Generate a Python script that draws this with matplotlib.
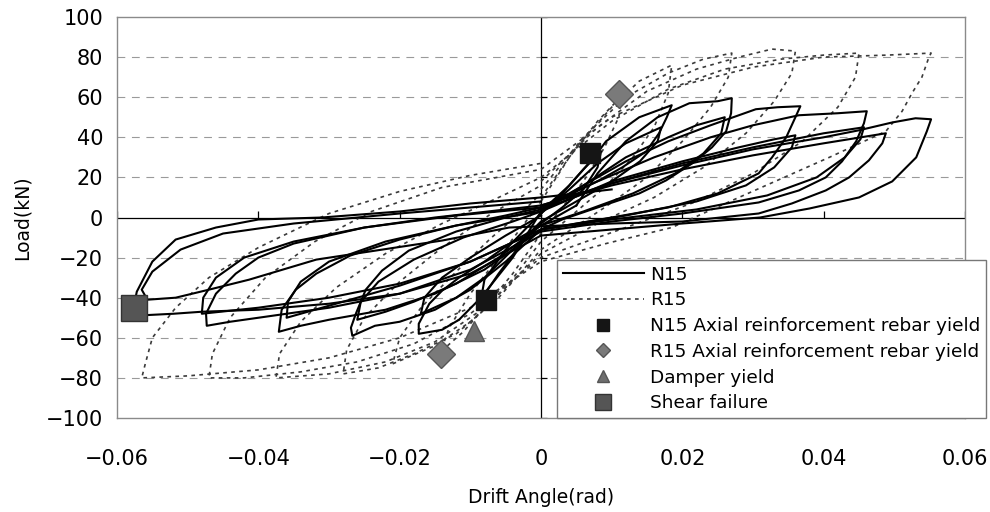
import matplotlib
matplotlib.use("Agg")
import matplotlib.pyplot as plt
from matplotlib.lines import Line2D

# ── data (drift angle rad, load kN) ─────────────────────────────────
# N15 (solid): one list of (x, y) vertices per loading cycle
N15_C1 = [(0.000, 2), (0.003, 12), (0.006, 24), (0.0085, 33), (0.008, 25), (0.006, 14),
          (0.003, 5), (0.000, -3), (-0.003, -14), (-0.006, -28), (-0.0085, -41),
          (-0.008, -31), (-0.005, -16), (-0.002, -5), (0.000, 2)]
N15_C2 = [(0.000, 3), (0.004, 16), (0.0075, 30), (0.0092, 38), (0.0139, 50), (0.0185, 56),
          (0.0178, 50), (0.0167, 42), (0.0149, 33), (0.0115, 25), (0.0082, 18.5),
          (0.0044, 12), (0.000, 3), (-0.004, -20), (-0.0085, -40), (-0.0116, -51),
          (-0.014, -56), (-0.0173, -58), (-0.0173, -53), (-0.0158, -43), (-0.014, -36.5),
          (-0.0116, -30), (-0.008, -22), (-0.004, -12), (0.000, -4), (0.005, 6)]
N15_C2b = [(0.000, 2), (0.004, 14), (0.008, 27), (0.012, 37), (0.017, 45), (0.0165, 38),
           (0.014, 28), (0.010, 18), (0.005, 8), (0.000, -2), (-0.004, -16), (-0.008, -30),
           (-0.012, -40), (-0.017, -48), (-0.0165, -40), (-0.014, -30), (-0.010, -20),
           (-0.005, -9), (0.000, 1)]
N15_C3 = [(0.005, 6), (0.008, 22), (0.012, 38), (0.0165, 50), (0.021, 57), (0.025, 58),
          (0.027, 59.5), (0.0269, 52), (0.0262, 43), (0.0242, 35), (0.0214, 27),
          (0.0177, 18.5), (0.0139, 12), (0.008, 5), (0.003, -1), (0.000, -6),
          (-0.005, -22), (-0.010, -36), (-0.015, -46), (-0.020, -52), (-0.0235, -54),
          (-0.0267, -59), (-0.0269, -55), (-0.0262, -48), (-0.0248, -36), (-0.0225, -26.5),
          (-0.0187, -16.5), (-0.012, -7), (-0.005, 0), (0.000, 4)]
N15_C3b = [(0.000, 3), (0.006, 16), (0.012, 30), (0.018, 40), (0.022, 46), (0.026, 50),
           (0.0255, 42), (0.023, 32), (0.019, 22), (0.013, 12), (0.006, 3), (0.000, -4),
           (-0.006, -20), (-0.012, -33), (-0.018, -42), (-0.022, -47), (-0.026, -51),
           (-0.0255, -42), (-0.023, -32), (-0.018, -21), (-0.011, -10), (-0.004, -2),
           (0.000, 3)]
N15_C4 = [(0.000, 4), (0.006, 16), (0.012, 28), (0.018, 38), (0.024, 46), (0.0304, 54),
          (0.0335, 55), (0.0367, 55.5), (0.036, 50), (0.0347, 40), (0.0327, 30),
          (0.0308, 22), (0.025, 12), (0.018, 5), (0.010, 0), (0.000, -6), (-0.008, -26),
          (-0.015, -38), (-0.022, -46), (-0.030, -51), (-0.034, -54), (-0.0371, -57),
          (-0.0367, -46), (-0.0347, -36), (-0.0318, -28), (-0.027, -19), (-0.020, -11),
          (-0.012, -4), (-0.005, 1), (0.000, 5)]
N15_C4b = [(0.000, 3), (0.010, 18), (0.020, 28), (0.028, 35), (0.033, 39), (0.036, 41),
           (0.0355, 35), (0.033, 25), (0.029, 16), (0.022, 8), (0.012, 1), (0.000, -6),
           (-0.010, -22), (-0.020, -34), (-0.028, -42), (-0.033, -47), (-0.036, -50),
           (-0.0358, -42), (-0.034, -32), (-0.030, -22), (-0.022, -12), (-0.012, -4),
           (0.000, 3)]
N15_C5 = [(0.000, 5), (0.008, 18), (0.016, 30), (0.024, 40), (0.030, 46), (0.0365, 51),
          (0.042, 52), (0.0461, 53), (0.0457, 47), (0.0446, 38), (0.0426, 28),
          (0.0403, 20), (0.0365, 13.5), (0.0308, 7.5), (0.020, 2), (0.010, -2),
          (0.000, -7), (-0.010, -26), (-0.020, -38), (-0.030, -45), (-0.038, -49),
          (-0.044, -52), (-0.0473, -54), (-0.0474, -48), (-0.046, -38), (-0.0432, -28),
          (-0.040, -20), (-0.035, -13), (-0.025, -5), (-0.015, 0), (0.000, 6)]
N15_C5b = [(0.000, 4), (0.010, 17), (0.020, 27), (0.030, 35), (0.040, 42), (0.0457, 45),
           (0.0452, 39), (0.043, 30), (0.039, 20), (0.032, 11), (0.022, 4), (0.010, -1),
           (0.000, -6), (-0.010, -22), (-0.020, -33), (-0.030, -40), (-0.040, -45),
           (-0.048, -48), (-0.0478, -40), (-0.046, -30), (-0.042, -20), (-0.035, -12),
           (-0.025, -5), (-0.012, 1), (0.000, 5)]
N15_C5c = [(0.000, 6), (0.010, 16), (0.020, 24), (0.030, 31), (0.040, 37), (0.0488, 42),
           (0.0483, 37), (0.0464, 28.5), (0.0436, 20), (0.0403, 13.5), (0.0355, 7),
           (0.0308, 2), (0.020, -2), (0.010, -3), (-0.0045, -5), (-0.014, -11.5),
           (-0.0234, -16.5), (-0.0318, -21), (-0.0413, -31), (-0.047, -36), (-0.0517, -40),
           (-0.0557, -41), (-0.0565, -36), (-0.055, -27), (-0.051, -16), (-0.045, -8),
           (-0.035, -3), (-0.020, 2), (-0.010, 5), (0.000, 8)]
N15_C6 = [(0.000, 6), (0.010, 17), (0.020, 26), (0.030, 34), (0.040, 40), (0.045, 43.5),
          (0.0497, 47.4), (0.053, 49.5), (0.0552, 49), (0.0546, 43), (0.0531, 30),
          (0.0497, 18), (0.045, 10), (0.038, 4.5), (0.031, 0), (0.020, -3), (0.010, -6),
          (0.000, -9), (-0.010, -28), (-0.020, -38), (-0.030, -43), (-0.040, -46),
          (-0.048, -47), (-0.052, -48), (-0.0576, -49), (-0.0576, -44), (-0.0572, -37),
          (-0.055, -22), (-0.0517, -11), (-0.046, -5), (-0.040, -1), (-0.031, 0),
          (-0.020, 3), (-0.010, 7), (0.000, 10), (0.010, 14)]

# R15 (dotted)
R15_C1 = [(0.000, 8), (0.004, 30), (0.008, 48), (0.0115, 61), (0.011, 50), (0.009, 35),
          (0.006, 18), (0.003, 5), (0.000, -8), (-0.004, -28), (-0.008, -45),
          (-0.011, -57), (-0.0142, -67), (-0.013, -55), (-0.010, -38), (-0.006, -20),
          (-0.003, -6), (0.000, 8)]
R15_C2 = [(0.000, 10), (0.005, 35), (0.010, 55), (0.0139, 68), (0.0185, 76), (0.018, 62),
          (0.016, 45), (0.013, 30), (0.009, 15), (0.004, 0), (0.000, -12), (-0.005, -35),
          (-0.010, -52), (-0.015, -64), (-0.021, -73), (-0.020, -60), (-0.017, -45),
          (-0.012, -27), (-0.007, -10), (-0.002, 5), (0.000, 12)]
R15_C3 = [(0.000, 14), (0.006, 40), (0.012, 60), (0.018, 72), (0.023, 79), (0.027, 82),
          (0.0265, 70), (0.024, 55), (0.020, 38), (0.015, 20), (0.009, 5), (0.000, -16),
          (-0.006, -40), (-0.012, -58), (-0.018, -68), (-0.023, -75), (-0.028, -78),
          (-0.0275, -66), (-0.025, -50), (-0.020, -32), (-0.014, -15), (-0.007, 2),
          (0.000, 16)]
R15_C4 = [(0.000, 18), (0.008, 45), (0.015, 63), (0.022, 74), (0.028, 80), (0.0327, 84),
          (0.036, 83), (0.0355, 72), (0.033, 58), (0.029, 42), (0.023, 25), (0.016, 10),
          (0.008, -3), (0.000, -18), (-0.008, -45), (-0.015, -62), (-0.022, -72),
          (-0.030, -78), (-0.0375, -80), (-0.037, -68), (-0.034, -52), (-0.029, -35),
          (-0.022, -18), (-0.014, -3), (-0.006, 10), (0.000, 20)]
R15_C5 = [(0.000, 20), (0.010, 48), (0.018, 64), (0.026, 74), (0.034, 79), (0.040, 81),
          (0.045, 82), (0.0445, 70), (0.042, 55), (0.037, 38), (0.030, 22), (0.022, 8),
          (0.012, -5), (0.000, -20), (-0.010, -48), (-0.018, -63), (-0.026, -72),
          (-0.034, -77), (-0.042, -80), (-0.047, -80), (-0.0465, -68), (-0.044, -50),
          (-0.039, -30), (-0.032, -12), (-0.024, 3), (-0.014, 15), (0.000, 24)]
R15_C6 = [(0.000, 24), (0.010, 50), (0.020, 66), (0.030, 75), (0.040, 80), (0.049, 81),
          (0.0552, 82), (0.0549, 80), (0.0539, 70), (0.0525, 62), (0.0511, 53),
          (0.0488, 43), (0.0408, 30), (0.028, 10), (0.0185, -5), (0.0092, -13),
          (0.000, -22), (-0.010, -45), (-0.020, -60), (-0.030, -70), (-0.040, -76),
          (-0.050, -79), (-0.0565, -80), (-0.056, -73), (-0.055, -60), (-0.0517, -45),
          (-0.047, -30), (-0.040, -15), (-0.030, 2), (-0.020, 13), (-0.010, 21),
          (0.000, 27)]

N15_CYCLES = [N15_C1, N15_C2, N15_C2b, N15_C3, N15_C3b, N15_C4, N15_C4b,
              N15_C5, N15_C5b, N15_C5c, N15_C6]
R15_CYCLES = [R15_C1, R15_C2, R15_C3, R15_C4, R15_C5, R15_C6]

# event markers
N15_YIELD_X = [0.0069, -0.0078]
N15_YIELD_Y = [32.4, -41.0]
R15_YIELD_X = [0.0110, -0.0142]
R15_YIELD_Y = [61.8, -68.3]
DAMPER_X = [-0.0095]
DAMPER_Y = [-56.4]
SHEAR_X = [-0.0576]
SHEAR_Y = [-45.0]

X_TICKS = [-0.06, -0.04, -0.02, 0, 0.02, 0.04, 0.06]
X_TICKLABELS = ["\u22120.06", "\u22120.04", "\u22120.02", "0", "0.02", "0.04", "0.06"]
Y_TICKS = [-100, -80, -60, -40, -20, 0, 20, 40, 60, 80, 100]

fig = plt.figure(figsize=(9.9, 5.12), dpi=100)
ax = fig.add_axes([117 / 990, 1 - 418 / 512, 848 / 990, 401 / 512])

# dashed grid + solid zero axes
for yv in Y_TICKS:
    if yv not in (0, 100, -100):
        ax.axhline(yv, color="#9a9a9a", lw=0.8, ls=(0, (7, 6)), zorder=0)
ax.axhline(0, color="black", lw=0.9, zorder=1)
ax.axvline(0, color="black", lw=0.9, zorder=1)
ax.vlines(X_TICKS, 0, 3, color="black", lw=0.9, zorder=1)
ax.hlines([y for y in Y_TICKS if y != 0], 0, 0.0009, color="black", lw=0.9, zorder=1)

# hysteresis loops
for cyc in R15_CYCLES:
    xs, ys = zip(*cyc)
    ax.plot(xs, ys, color="#3a3a3a", lw=1.2, ls=(0, (2.2, 2.6)), zorder=2)
for cyc in N15_CYCLES:
    xs, ys = zip(*cyc)
    ax.plot(xs, ys, color="black", lw=1.5, zorder=3)

# event markers
ax.plot(N15_YIELD_X, N15_YIELD_Y, ls="none", marker="s", ms=14,
        mfc="#151515", mec="#151515", zorder=5)
ax.plot(R15_YIELD_X, R15_YIELD_Y, ls="none", marker="D", ms=14,
        mfc="#7a7a7a", mec="#555555", zorder=5)
ax.plot(DAMPER_X, DAMPER_Y, ls="none", marker="^", ms=14,
        mfc="#6e6e6e", mec="#555555", zorder=5)
ax.plot(SHEAR_X, SHEAR_Y, ls="none", marker="s", ms=19,
        mfc="#555555", mec="#333333", zorder=5)

ax.set_xlim(-0.06, 0.06)
ax.set_ylim(-100, 100)
ax.set_xticks(X_TICKS)
ax.set_xticklabels(X_TICKLABELS)
ax.set_yticks(Y_TICKS)
ax.set_yticklabels([str(v).replace("-", "\u2212") for v in Y_TICKS])
ax.tick_params(axis="x", length=0, pad=22, labelsize=15)
ax.tick_params(axis="y", length=0, pad=10, labelsize=15)
for sp in ax.spines.values():
    sp.set_color("#8a8a8a")
    sp.set_linewidth(1.0)

ax.set_xlabel("Drift Angle(rad)", fontsize=13.5, labelpad=14)
ax.set_ylabel("Load(kN)", fontsize=13.5, labelpad=10)

handles = [
    Line2D([], [], color="black", lw=1.5),
    Line2D([], [], color="#3a3a3a", lw=1.2, ls=(0, (2.2, 2.6))),
    Line2D([], [], ls="none", marker="s", ms=9, mfc="#151515", mec="#151515"),
    Line2D([], [], ls="none", marker="D", ms=7, mfc="#7a7a7a", mec="#555555"),
    Line2D([], [], ls="none", marker="^", ms=9, mfc="#6e6e6e", mec="#555555"),
    Line2D([], [], ls="none", marker="s", ms=12, mfc="#555555", mec="#333333"),
]
labels = ["N15", "R15", "N15 Axial reinforcement rebar yield",
          "R15 Axial reinforcement rebar yield", "Damper yield", "Shear failure"]
leg = ax.legend(handles, labels, loc="upper left",
                bbox_to_anchor=(557 / 990, 1 - 260 / 512),
                bbox_transform=fig.transFigure, fontsize=13.3, frameon=True,
                fancybox=False, edgecolor="#777777", framealpha=1,
                handlelength=4.4, handletextpad=0.35, labelspacing=0.42,
                borderpad=0.3, borderaxespad=0, numpoints=1)
leg.get_frame().set_linewidth(1.0)
leg.set_zorder(10)

fig.savefig("out.png", dpi=100)
